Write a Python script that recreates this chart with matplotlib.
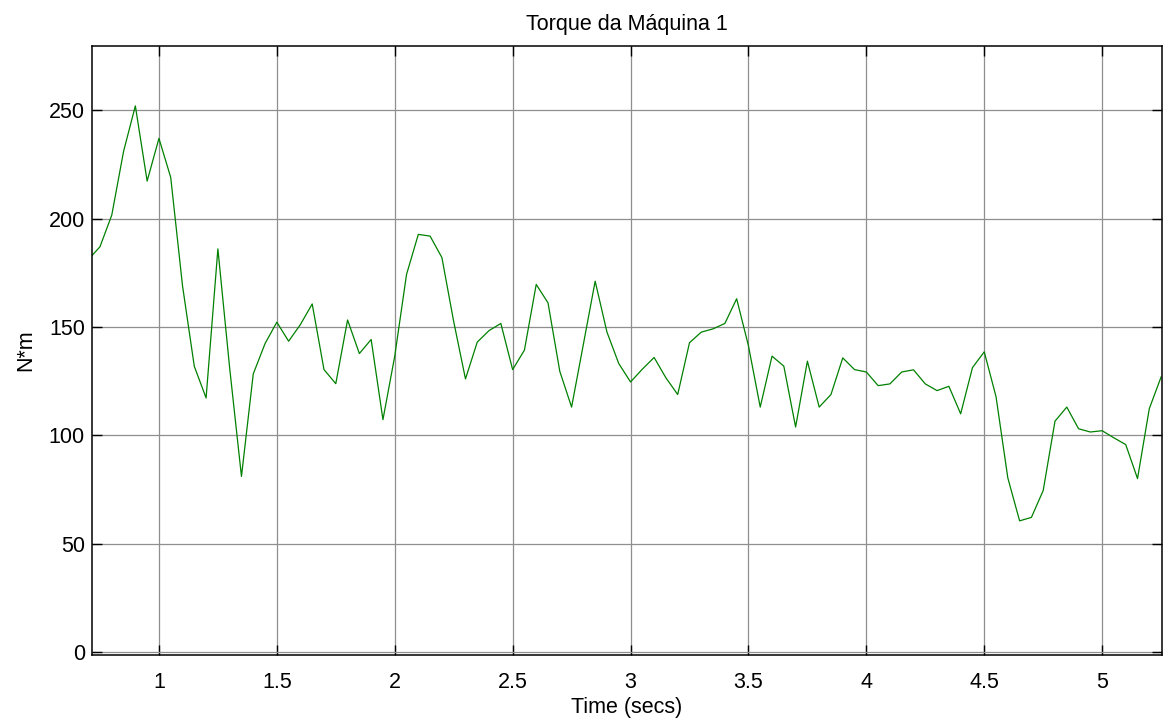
import matplotlib
matplotlib.use('Agg')
import matplotlib.pyplot as plt

plt.rcParams['font.family'] = ['Liberation Sans', 'DejaVu Sans']

# sample times (s) and torque (N*m)
time_s = [0.70, 0.75, 0.80, 0.85, 0.90, 0.95, 1.00, 1.05, 1.10, 1.15,
          1.20, 1.25, 1.30, 1.35, 1.40, 1.45, 1.50, 1.55, 1.60, 1.65,
          1.70, 1.75, 1.80, 1.85, 1.90, 1.95, 2.00, 2.05, 2.10, 2.15,
          2.20, 2.25, 2.30, 2.35, 2.40, 2.45, 2.50, 2.55, 2.60, 2.65,
          2.70, 2.75, 2.80, 2.85, 2.90, 2.95, 3.00, 3.05, 3.10, 3.15,
          3.20, 3.25, 3.30, 3.35, 3.40, 3.45, 3.50, 3.55, 3.60, 3.65,
          3.70, 3.75, 3.80, 3.85, 3.90, 3.95, 4.00, 4.05, 4.10, 4.15,
          4.20, 4.25, 4.30, 4.35, 4.40, 4.45, 4.50, 4.55, 4.60, 4.65,
          4.70, 4.75, 4.80, 4.85, 4.90, 4.95, 5.00, 5.05, 5.10, 5.15,
          5.20, 5.25]
torque = [181.0, 187.0, 201.6, 231.0, 252.0, 217.3, 237.0, 219.0, 169.0, 131.8,
          117.2, 186.0, 131.0, 81.0, 128.3, 142.3, 152.2, 143.4, 151.1, 160.6,
          130.3, 123.8, 153.2, 137.7, 144.2, 107.2, 136.5, 174.2, 192.7, 191.9,
          182.0, 152.5, 126.0, 143.0, 148.3, 151.6, 130.3, 139.3, 169.6, 161.1,
          129.5, 113.0, 142.0, 171.1, 147.6, 133.1, 124.6, 130.5, 135.9, 126.5,
          118.8, 142.7, 147.6, 149.1, 151.6, 163.0, 141.3, 113.0, 136.5, 131.9,
          103.8, 134.2, 113.0, 118.8, 135.7, 130.3, 129.2, 122.9, 123.7, 129.2,
          130.2, 123.7, 120.6, 122.6, 109.9, 131.2, 138.5, 117.8, 80.3, 60.5,
          62.1, 74.5, 106.5, 113.0, 103.0, 101.5, 102.1, 98.8, 95.7, 80.0,
          112.3, 126.9]

xticks = [1, 1.5, 2, 2.5, 3, 3.5, 4, 4.5, 5]
xtick_labels = ['1', '1.5', '2', '2.5', '3', '3.5', '4', '4.5', '5']
yticks = [0, 50, 100, 150, 200, 250]

fig = plt.figure(figsize=(11.7, 7.2), dpi=100)
ax = fig.add_axes([0.0784, 0.0903, 0.915, 0.8454])

ax.plot(time_s, torque, color='#008000', lw=0.9)

ax.set_xlim(0.715, 5.255)
ax.set_ylim(-1.4, 279.5)
ax.set_xticks(xticks)
ax.set_xticklabels(xtick_labels)
ax.set_yticks(yticks)

ax.grid(True, color='#8f8f8f', lw=0.9)
ax.set_axisbelow(True)
for s in ax.spines.values():
    s.set_color('black')
    s.set_linewidth(1.1)

ax.tick_params(axis='both', direction='in', length=7, width=1, color='black',
               top=True, right=True, labelsize=15.5)
ax.tick_params(axis='x', pad=12)
ax.tick_params(axis='y', pad=5)

ax.set_title('Torque da Máquina 1', fontsize=15.5, pad=12)
ax.set_xlabel('Time (secs)', fontsize=15.5, labelpad=3)
ax.set_ylabel('N*m', fontsize=15.5, labelpad=9)

plt.savefig('out.png', dpi=100)
